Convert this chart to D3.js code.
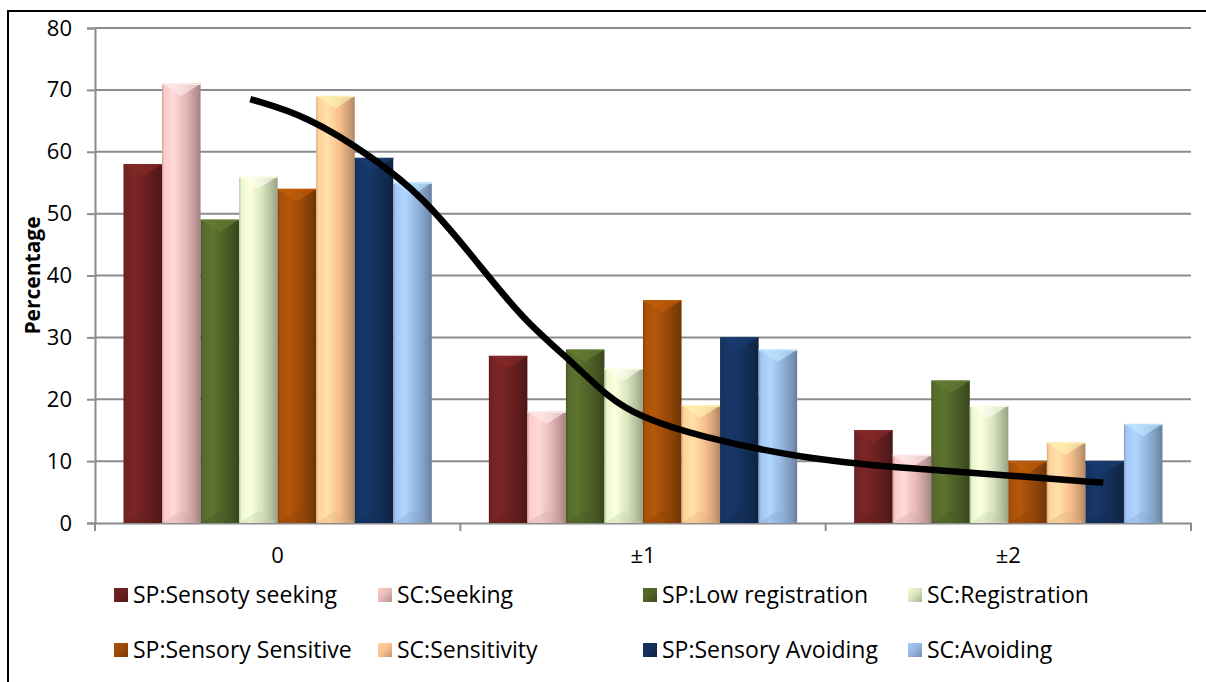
<!DOCTYPE html>
<html><head><meta charset="utf-8">
<script src="https://cdn.jsdelivr.net/npm/d3@7"></script>
<style>body{margin:0;background:#fff;overflow:hidden} svg{display:block}</style>
</head><body>
<svg id="chart" width="1206" height="682"></svg>
<script>
// ---- data ----
const categories = ["0", "±1", "±2"];
const seriesNames = [
  "SP:Sensoty seeking", "SC:Seeking", "SP:Low registration", "SC:Registration",
  "SP:Sensory Sensitive", "SC:Sensitivity", "SP:Sensory Avoiding", "SC:Avoiding"
];
const seriesColors = ["#6a2020", "#e8b9b8", "#4f6228", "#d7e4bd", "#9a4a08", "#f9c08e", "#14305a", "#95b6e0"];
const spSeeking      = [58, 27, 15];
const scSeeking      = [71, 18, 11];
const spLowReg       = [49, 28, 23];
const scRegistration = [56, 25, 19];
const spSensitive    = [54, 36, 10];
const scSensitivity  = [69, 19, 13];
const spAvoiding     = [59, 30, 10];
const scAvoiding     = [55, 28, 16];
const seriesValues = [spSeeking, scSeeking, spLowReg, scRegistration, spSensitive, scSensitivity, spAvoiding, scAvoiding];
const yTicks = [0, 10, 20, 30, 40, 50, 60, 70, 80];
// trend curve (x in category units, 0 = centre of first category)
const trendX = [-0.075, 0.081, 0.261, 0.398, 0.535, 0.672, 0.809, 0.902, 0.992, 1.157, 1.430, 1.704, 1.978, 2.260];
const trendY = [68.5, 65.8, 59.1, 52.7, 43.0, 32.8, 25.9, 20.4, 17.1, 13.9, 10.5, 8.9, 7.8, 6.5];

// ---- layout ----
const FONT = "'Open Sans', 'Liberation Sans', sans-serif";
const svg = d3.select("#chart");
const plot = {left: 95, right: 1191, top: 28, bottom: 523};

const x0 = d3.scaleBand().domain(categories).range([plot.left, plot.right]).paddingInner(0).paddingOuter(0);
const x1 = d3.scaleBand().domain(seriesNames).range([0, x0.bandwidth()]).paddingInner(0).paddingOuter(0.74);
const y = d3.scaleLinear().domain([0, 80]).range([plot.bottom, plot.top]);
const xTrend = d3.scaleLinear().domain([-0.5, categories.length - 0.5]).range([plot.left, plot.right]);

// outer frame
svg.append("rect").attr("x", 8).attr("y", 11).attr("width", 1300).attr("height", 800)
  .attr("fill", "none").attr("stroke", "#000").attr("stroke-width", 2);

// gradients
const defs = svg.append("defs");
seriesColors.forEach((c, i) => {
  const g = defs.append("linearGradient").attr("id", "g" + i).attr("x1", 0).attr("x2", 1).attr("y1", 0).attr("y2", 0);
  const col = d3.color(c);
  [[0, col.darker(0.4)], [0.06, col.brighter(0.25)], [0.3, col.brighter(0.45)], [0.6, col], [0.88, col.darker(0.6)], [1, col.darker(1.0)]]
    .forEach(([o, cc]) => g.append("stop").attr("offset", o).attr("stop-color", cc.formatHex()));
  const gl = defs.append("linearGradient").attr("id", "gl" + i).attr("x1", 0).attr("x2", 1).attr("y1", 0).attr("y2", 1);
  [[0, col.brighter(0.3)], [0.5, col], [1, col.darker(0.7)]]
    .forEach(([o, cc]) => gl.append("stop").attr("offset", o).attr("stop-color", cc.formatHex()));
});

// gridlines
svg.append("g").selectAll("line").data(yTicks.filter(t => t > 0)).join("line")
  .attr("x1", plot.left).attr("x2", plot.right)
  .attr("y1", d => y(d)).attr("y2", d => y(d))
  .attr("stroke", "#8c8c8c").attr("stroke-width", 2);

// y axis
const yAxis = svg.append("g").attr("transform", `translate(${plot.left},0)`)
  .call(d3.axisLeft(y).tickValues(yTicks).tickSize(8).tickPadding(15));
yAxis.select(".domain").attr("stroke", "#8c8c8c").attr("stroke-width", 2);
yAxis.selectAll(".tick line").attr("stroke", "#8c8c8c").attr("stroke-width", 2);
yAxis.selectAll("text").attr("font-family", FONT).attr("font-size", 22).attr("fill", "#000");

// x axis
const xAxis = svg.append("g").attr("transform", `translate(0,${plot.bottom})`)
  .call(d3.axisBottom(x0).tickSize(0).tickPadding(24));
xAxis.select(".domain").attr("stroke", "#8c8c8c").attr("stroke-width", 2);
xAxis.selectAll("text").attr("font-family", FONT).attr("font-size", 22).attr("fill", "#000");
const bounds = categories.map(c => x0(c)).concat([x0(categories[categories.length - 1]) + x0.bandwidth()]);
xAxis.selectAll(".bnd").data(bounds).join("line").attr("class", "bnd")
  .attr("x1", d => d).attr("x2", d => d).attr("y1", 0).attr("y2", 8)
  .attr("stroke", "#8c8c8c").attr("stroke-width", 2);

// y title
svg.append("text").attr("transform", `translate(40,${(plot.top + plot.bottom) / 2}) rotate(-90)`)
  .attr("text-anchor", "middle").attr("font-family", FONT).attr("font-weight", "bold")
  .attr("font-size", 21).text("Percentage");

// bars
const groups = svg.append("g").selectAll("g").data(categories).join("g")
  .attr("transform", d => `translate(${x0(d)},0)`);
groups.each(function(cat, ci) {
  const g = d3.select(this);
  seriesNames.forEach((s, si) => {
    const v = seriesValues[si][ci];
    const bx = x1(s), bw = x1.bandwidth(), top = y(v), h = y(0) - y(v);
    const col = d3.color(seriesColors[si]);
    g.append("rect").attr("x", bx).attr("y", top).attr("width", bw).attr("height", h).attr("fill", `url(#g${si})`);
    const ch = Math.min(bw * 0.32, h / 2);
    // top bevel chevron
    g.append("path").attr("d", `M${bx},${top}L${bx + bw},${top}L${bx + bw / 2},${top + ch}Z`)
      .attr("fill", col.brighter(0.7).formatHex()).attr("opacity", 0.6);
    g.append("line").attr("x1", bx).attr("x2", bx + bw).attr("y1", top + 0.5).attr("y2", top + 0.5)
      .attr("stroke", col.brighter(0.6).formatHex()).attr("stroke-width", 1.5);
    // bottom bevel
    g.append("path").attr("d", `M${bx},${y(0)}L${bx + bw},${y(0)}L${bx + bw / 2},${y(0) - ch}Z`)
      .attr("fill", col.darker(0.3).formatHex()).attr("opacity", 0.35);
  });
});

// trend curve
const trendPts = trendX.map((tx, i) => [xTrend(tx), y(trendY[i])]);
svg.append("path").datum(trendPts)
  .attr("d", d3.line().curve(d3.curveBasis))
  .attr("fill", "none").attr("stroke", "#000").attr("stroke-width", 6.5).attr("stroke-linecap", "butt");

// legend
const legendX = [114, 378, 643, 908];
const legendY = [595, 650];
const leg = svg.append("g").selectAll("g").data(seriesNames).join("g")
  .attr("transform", (d, i) => `translate(${legendX[i % 4]},${legendY[Math.floor(i / 4)]})`);
leg.append("rect").attr("x", 0).attr("y", -7).attr("width", 14).attr("height", 14)
  .attr("fill", (d, i) => `url(#gl${i})`);
leg.append("text").attr("x", 19).attr("y", 0).attr("dy", "0.36em")
  .attr("font-family", FONT).attr("font-size", 23).attr("fill", "#000").text(d => d);
</script>
</body></html>
